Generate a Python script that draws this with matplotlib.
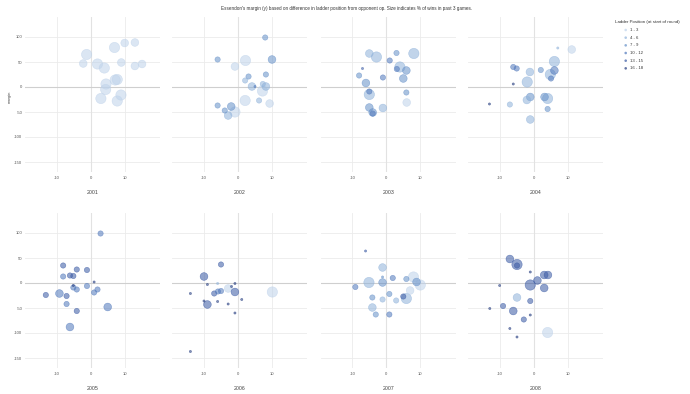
import matplotlib
matplotlib.use("Agg")
import matplotlib.pyplot as plt
from matplotlib.colors import to_rgba
import numpy as np

plt.rcParams['font.family'] = ['Liberation Sans', 'DejaVu Sans']

# ---------------- data ----------------
years = ["2001", "2002", "2003", "2004", "2005", "2006", "2007", "2008"]
ladder_labels = ["1 - 3", "4 - 6", "7 - 9", "10 - 12", "13 - 15", "16 - 18"]

x_2001 = [-1.2, -2.2, 2.0, 4.0, 7.0, 10.0, 13.0, 9.0, 13.0, 15.1, 4.5, 7.8, 7.2, 4.4, 3.0, 7.8, 8.9]
y_2001 = [65, 47, 46, 38, 79, 88, 89, 49, 42, 46, 6, 15, 14, -5, -23, -28, -16]
s_2001 = [100, 67, 100, 100, 100, 67, 67, 67, 67, 67, 100, 100, 100, 100, 100, 100, 100]
l_2001 = [1, 1, 1, 1, 1, 1, 1, 1, 1, 1, 1, 1, 1, 1, 1, 1, 1]

x_2002 = [8, -6, 10, -0.9, 2.2, 3.1, 8.2, 2.1, 5, 4.1, 7.2, 8.2, 7.3, 2.1, 6.2, 9.3, -6, -2, -3.9, -0.9, -2.9]
y_2002 = [99, 55, 55, 41, 53, 21, 25, 13, 1, 1, -8, 1, 6, -27, -27, -33, -37, -39, -47, -50, -57]
s_2002 = [33, 33, 67, 67, 100, 33, 33, 33, 0, 67, 100, 67, 33, 100, 33, 67, 33, 67, 33, 100, 67]
l_2002 = [3, 3, 3, 1, 1, 3, 3, 2, 4, 2, 1, 2, 2, 1, 2, 1, 3, 3, 3, 1, 2]

x_2003 = [-5, -2.9, 3, 8.1, 1, -7, 4, 3.1, 5.9, -8, -1, 5, -6, -5, -5, 5.9, 6, -5, -1, -4, -4]
y_2003 = [67, 60, 68, 67, 53, 37, 40, 36, 33, 23, 19, 17, 8, -9, -15, -11, -31, -41, -42, -51, -53]
s_2003 = [67, 100, 33, 100, 33, 0, 100, 33, 67, 33, 33, 67, 67, 33, 100, 33, 67, 67, 67, 67, 33]
l_2003 = [2, 2, 3, 2, 4, 5, 2, 4, 3, 3, 4, 3, 3, 4, 2, 3, 1, 3, 2, 3, 4]

x_2004 = [7, 11.1, 6, -6.1, -5.1, -1.2, 2, 6, 4.8, 5, -6.1, -2, -1.1, -2.1, 3.1, 4, -7.1, -13.1, 4, -1.1]
y_2004 = [78, 75, 51, 40, 37, 30, 34, 33, 25, 17, 6, 10, -20, -26, -20, -23, -35, -34, -44, -65]
s_2004 = [0, 67, 100, 33, 33, 67, 33, 67, 100, 33, 0, 100, 67, 67, 67, 100, 33, 0, 33, 67]
l_2004 = [2, 1, 2, 4, 4, 2, 3, 4, 2, 4, 6, 2, 3, 2, 3, 2, 2, 6, 3, 2]

x_2005 = [2.9, -8.1, -4.1, -1.1, -8.1, -6.1, -5.1, -5.1, -5.1, -4.1, 1, -1.1, 2, 1, -13.2, -9.2, -7.1, -7.1, 5, -4.1, -6.1]
y_2005 = [99, 35, 27, 26, 13, 15, 14, -5, -9, -13, 2, -6, -13, -19, -24, -21, -26, -42, -48, -56, -88]
s_2005 = [33, 33, 33, 33, 33, 33, 33, 0, 33, 33, 0, 33, 33, 33, 33, 67, 33, 33, 67, 33, 67]
l_2005 = [4, 5, 5, 5, 4, 5, 5, 6, 4, 4, 6, 4, 4, 4, 5, 4, 5, 4, 4, 5, 4]

x_2006 = [-5, -10, -9, -6, -0.9, -1.9, -2.9, -14, -7, -5, -5.9, -0.9, 10.1, 1.1, -10, -6, -9, -2.9, -0.9, -14]
y_2006 = [37, 13, -3, -1, -1, -7, -11, -21, -21, -16, -17, -18, -18, -33, -36, -37, -43, -42, -60, -137]
s_2006 = [33, 67, 0, 0, 0, 0, 67, 0, 33, 33, 33, 67, 100, 0, 0, 0, 67, 0, 0, 0]
l_2006 = [5, 5, 6, 2, 6, 6, 1, 6, 5, 4, 4, 5, 1, 6, 6, 6, 5, 6, 6, 6]

x_2007 = [-6.1, -1.1, -1.1, -1.1, -5.1, 1.9, 5.9, 8, 8.9, 10, -9.1, 7, 0.9, -4.1, -1.1, 5, 5.9, 2.9, -4.1, -3.1, 0.9]
y_2007 = [64, 31, 12, 1, 1, 10, 8, 12, 2, -4, -8, -15, -22, -29, -33, -27, -31, -35, -49, -63, -63]
s_2007 = [0, 67, 0, 67, 100, 33, 33, 100, 67, 100, 33, 67, 33, 33, 33, 33, 100, 33, 67, 33, 33]
l_2007 = [5, 2, 3, 3, 2, 4, 3, 1, 3, 1, 4, 1, 3, 3, 2, 5, 2, 2, 2, 3, 4]

x_2008 = [-7.1, -5, -5, -1.1, 3, 4.1, 1, -1.1, -10.1, 3, -5, -1.1, -9.1, -6.1, -13, -1.1, -3, -7.1, -5, 4]
y_2008 = [48, 37, 35, 22, 16, 16, 5, -4, -5, -10, -29, -36, -46, -56, -51, -64, -73, -91, -108, -99]
s_2008 = [67, 100, 33, 0, 67, 67, 67, 100, 0, 67, 67, 33, 33, 67, 0, 0, 33, 0, 0, 100]
l_2008 = [5, 5, 5, 6, 5, 5, 5, 5, 6, 5, 2, 5, 5, 5, 6, 6, 5, 6, 6, 1]

xs = [x_2001, x_2002, x_2003, x_2004, x_2005, x_2006, x_2007, x_2008]
ys = [y_2001, y_2002, y_2003, y_2004, y_2005, y_2006, y_2007, y_2008]
ss = [s_2001, s_2002, s_2003, s_2004, s_2005, s_2006, s_2007, s_2008]
ls = [l_2001, l_2002, l_2003, l_2004, l_2005, l_2006, l_2007, l_2008]

x_ticks = [-10, 0, 10]
y_ticks = [-150, -100, -50, 0, 50, 100]

# ---------------- style ----------------
palette = ["#bed2ea", "#8fb2da", "#6590c8", "#4f77bb", "#3858a3", "#223a7e"]
size_px = {0: 2.2, 33: 5.3, 67: 7.7, 100: 10.3}
FACE_A = 0.55
EDGE_A = 0.65
W, H = 690, 394
DPI = 100

def px2pt2(d):
    return (d * 72.0 / DPI) ** 2

fig = plt.figure(figsize=(W / DPI, H / DPI), dpi=DPI)

zero_px = [90.7, 238.0, 386.3, 534.0]
x_lo, x_hi = -19.3, 20.4
y_lo, y_hi = -170, 140
pw = (x_hi - x_lo) * 3.4
ph = (y_hi - y_lo) * 0.5
row_top = [17.0, 213.0]

grid_c = "#ebebeb"
tick_c = "#555555"

for i, yr in enumerate(years):
    r, c = divmod(i, 4)
    left = zero_px[c] + x_lo * 3.4
    top = row_top[r]
    ax = fig.add_axes([left / W, 1 - (top + ph) / H, pw / W, ph / H])
    ax.set_xlim(x_lo, x_hi)
    ax.set_ylim(y_lo, y_hi)
    for sp in ax.spines.values():
        sp.set_visible(False)
    for t in x_ticks:
        ax.axvline(t, color=grid_c, lw=0.6, zorder=0)
    for t in y_ticks:
        ax.axhline(t, color=grid_c, lw=0.6, zorder=0)
    ax.axvline(0, color="#e2e2e2", lw=0.8, zorder=0.5)
    ax.axhline(0, color="#cfcfcf", lw=0.8, zorder=0.5)

    x = np.array(xs[i], float)
    y = np.array(ys[i], float)
    s = np.array(ss[i])
    lv = np.array(ls[i])
    order = np.argsort(-s, kind="stable")
    sizes = [px2pt2(size_px[int(v)]) for v in s[order]]
    fc = [to_rgba(palette[k - 1], FACE_A) for k in lv[order]]
    ec = [to_rgba(palette[k - 1], EDGE_A) for k in lv[order]]
    ax.scatter(x[order], y[order], s=sizes, c=fc, edgecolors=ec, linewidths=0.4, zorder=2)

    ax.set_xticks(x_ticks)
    ax.set_xticklabels([str(t) for t in x_ticks])
    ax.set_yticks(y_ticks)
    if c == 0:
        ax.set_yticklabels([str(t) for t in y_ticks])
    else:
        ax.set_yticklabels([])
    ax.tick_params(length=0, labelsize=3.0, colors=tick_c, pad=3.2)
    ax.tick_params(axis="y", pad=2.0)

    fig.text((left + pw / 2) / W, 1 - (top + ph + 21) / H, yr,
             ha="center", va="center", fontsize=3.8, color="#444444")

fig.text(10 / W, 1 - 97 / H, "margin", rotation=90, ha="center", va="center",
         fontsize=3.0, color="#444444")

fig.text(347 / W, 1 - 8.3 / H,
         "Essendon's margin (y) based on difference in ladder position from opponent op. Size indicates % of wins in past 3 games.",
         ha="center", va="center", fontsize=3.3, color="#333333")

# legend
fig.text(615 / W, 1 - 22 / H, "Ladder Position (at start of round)", ha="left", va="center",
         fontsize=3.2, color="#333333")
leg_ax = fig.add_axes([0, 0, 1, 1], facecolor="none")
leg_ax.set_xlim(0, W)
leg_ax.set_ylim(H, 0)
leg_ax.axis("off")
for k, lab in enumerate(ladder_labels):
    yy = 30 + k * 7.67
    leg_ax.scatter([625.7], [yy], s=px2pt2(2.6), c=[to_rgba(palette[k], 0.7)],
                   edgecolors="none")
    leg_ax.text(630.5, yy, lab, ha="left", va="center", fontsize=3.1, color="#333333")

fig.savefig("out.png", dpi=DPI)
